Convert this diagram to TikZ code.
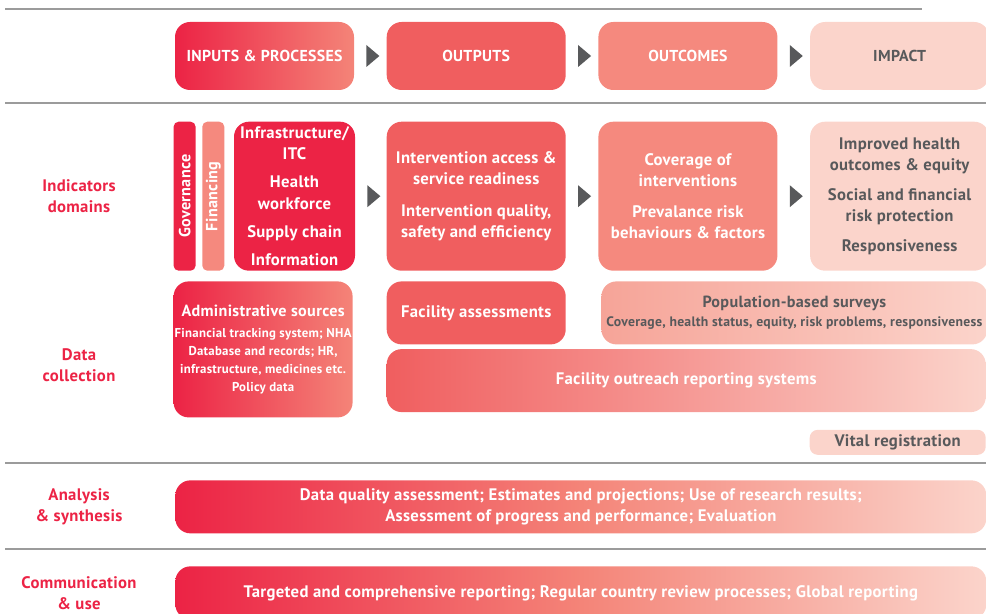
\documentclass[tikz,border=0pt]{standalone}
\usepackage{fontspec}
\setmainfont{PT Sans}[LetterSpace=2]
\usepackage{graphicx}
\usetikzlibrary{positioning,calc}

\definecolor{crimson}{RGB}{236,35,69}
\definecolor{outred}{RGB}{240,94,95}
\definecolor{salmon}{RGB}{245,137,126}
\definecolor{coral}{RGB}{244,132,120}
\definecolor{blush}{RGB}{251,212,203}
\definecolor{rosy}{RGB}{246,164,152}
\definecolor{inkgray}{RGB}{88,89,91}
\definecolor{rulegray}{RGB}{155,155,155}

\tikzstyle{stagebox} = [rectangle, rounded corners=0.3cm, minimum width=3.58cm,
  minimum height=1.36cm, inner sep=0pt, text=white,
  font=\fontsize{9}{12}\selectfont\bfseries]
\tikzstyle{indbox} = [rectangle, rounded corners=0.3cm, minimum width=3.58cm,
  minimum height=2.98cm, inner sep=0pt, text=white, align=center,
  font=\fontsize{9.5}{12}\selectfont\bfseries]
\tikzstyle{pillar} = [rectangle, rounded corners=0.1cm, minimum width=0.44cm,
  minimum height=2.98cm, inner sep=0pt, text=white,
  font=\fontsize{9.2}{12}\selectfont\bfseries]
\tikzstyle{srcbox} = [rectangle, rounded corners=0.3cm, minimum height=1.26cm,
  inner sep=0pt, text=white, align=center,
  font=\fontsize{9.5}{12}\selectfont\bfseries]
\tikzstyle{bandbox} = [rectangle, rounded corners=0.3cm, minimum width=16.22cm,
  minimum height=1.06cm, inner sep=0pt, text=white, align=center,
  left color=crimson, right color=blush, middle color=coral,
  font=\fontsize{9.5}{12}\selectfont\bfseries]
\tikzstyle{palebox} = [fill=blush, text=inkgray]
\tikzstyle{rowlabel} = [text=crimson, align=center,
  font=\fontsize{9.5}{12}\selectfont\bfseries]
\tikzstyle{sepline} = [draw=rulegray, line width=0.8pt]

\newcommand{\flowtip}[1]{%
  \fill[inkgray] ($(#1.east)+(0.24,0.22)$) -- ++(0.26,-0.22) -- ++(-0.26,-0.22) -- cycle;}
\newcommand{\subfont}{\fontsize{7.3}{10.2}\selectfont}
\newcommand{\headfont}{\fontsize{9.2}{12}\selectfont}

\begin{document}
\begin{tikzpicture}

\useasboundingbox (0,0) rectangle (19.72,-12.28);

% separator lines
\draw[sepline] (0.1,-0.18) -- (18.44,-0.18);
\draw[sepline] (0.1,-2.06) -- (19.72,-2.06);
\draw[sepline] (0.1,-9.26) -- (19.72,-9.26);
\draw[sepline] (0.1,-10.98) -- (19.72,-10.98);

% ==========================================
% RESULTS CHAIN (top row)
% ==========================================
\node[stagebox, left color=crimson, right color=coral] (inputs) at (5.29,-1.12) {INPUTS \& PROCESSES};
\node[stagebox, fill=outred] (outputs) [right=0.64cm of inputs] {OUTPUTS};
\node[stagebox, fill=salmon] (outcomes) [right=0.64cm of outputs] {OUTCOMES};
\node[stagebox, palebox] (impact) [right=0.64cm of outcomes] {IMPACT};

% ==========================================
% INDICATOR DOMAINS
% ==========================================
\node[indbox, fill=crimson, minimum width=2.42cm] (infra) [below=0.62cm of inputs, xshift=0.6cm]
  {Infrastructure/\\ITC\\[4pt]Health\\workforce\\[4pt]Supply chain\\[4pt]Information};
\node[pillar, fill=salmon] (fin) [left=0.18cm of infra] {\rotatebox{90}{Financing}};
\node[pillar, fill=crimson] (gov) [left=0.12cm of fin] {\rotatebox{90}{Governance}};
\node[indbox, fill=outred] (access) [below=0.62cm of outputs]
  {Intervention access \&\\service readiness\\[6pt]Intervention quality,\\safety and efficiency};
\node[indbox, fill=salmon] (coverage) [below=0.62cm of outcomes]
  {Coverage of\\interventions\\[6pt]Prevalance risk\\behaviours \& factors};
\node[indbox, palebox] (improved) [below=0.62cm of impact]
  {Improved health\\outcomes \& equity\\[5pt]Social and financial\\risk protection\\[5pt]Responsiveness};

\foreach \n in {inputs,outputs,outcomes,infra,access,coverage}
  { \flowtip{\n} }

% ==========================================
% DATA COLLECTION
% ==========================================
\node[srcbox, anchor=north west, minimum width=3.58cm, minimum height=2.72cm,
  left color=crimson, right color=coral, font=\subfont\bfseries] (admin) at ($(gov.south west)+(0,-0.2)$)
  {{\headfont Administrative sources}\\[2pt]
   Financial tracking system; NHA\\Database and records; HR,\\
   infrastructure, medicines etc.\\Policy data};
\node[srcbox, minimum width=3.58cm, fill=outred] (facility) [below=0.2cm of access] {Facility assessments};
\node[srcbox, anchor=north west, minimum width=7.72cm, left color=rosy, right color=blush,
  text=inkgray, font=\fontsize{7.8}{10.6}\selectfont\bfseries] (survey) at ($(facility.north east)+(0.7,0)$)
  {{\headfont Population-based surveys}\\
   Coverage, health status, equity, risk problems, responsiveness};
\node[srcbox, anchor=north west, minimum width=11.98cm, left color=outred, right color=blush]
  (outreach) at ($(facility.south west)+(0,-0.08)$) {Facility outreach reporting systems};
\node[srcbox, palebox, anchor=north east, minimum width=3.52cm, minimum height=0.5cm,
  rounded corners=0.16cm] (vital) at ($(outreach.south east)+(0,-0.34)$) {Vital registration};

% ==========================================
% ANALYSIS & COMMUNICATION
% ==========================================
\node[bandbox, anchor=north west] (analysis) at (3.5,-9.6)
  {Data quality assessment; Estimates and projections; Use of research results;\\
   Assessment of progress and performance; Evaluation};
\node[bandbox, anchor=north west] (reporting) at (3.5,-11.32)
  {Targeted and comprehensive reporting; Regular country review processes; Global reporting};

% row labels
\coordinate (lblcol) at (1.58,0);
\node[rowlabel] (lblind) at (lblcol |- infra) {Indicators\\domains};
\node[rowlabel] (lbldata) at ($(lblcol |- admin)+(0,-0.31)$) {Data\\collection};
\node[rowlabel] (lblana) at (lblcol |- analysis) {Analysis\\\& synthesis};
\node[rowlabel] (lblcom) at (lblcol |- reporting) {Communication\\\& use};

\end{tikzpicture}
\end{document}
